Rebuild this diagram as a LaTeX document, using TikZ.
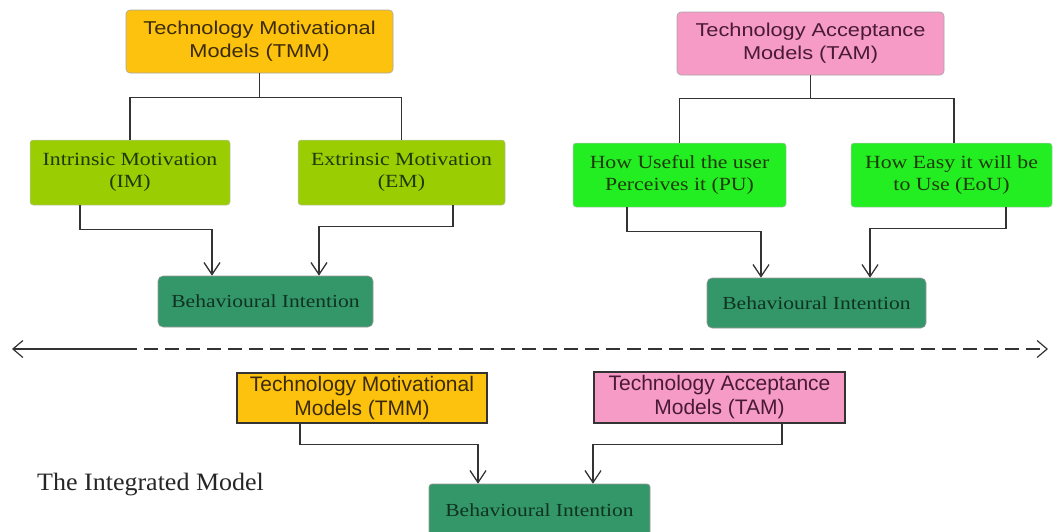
\documentclass[tikz,border=0pt]{standalone}
\usepackage{fontspec}
\setmainfont{Liberation Serif}
\newfontfamily\tsans[FakeStretch=1.17]{Liberation Sans}
\newfontfamily\tserif[FakeStretch=1.17]{Liberation Serif}
\newfontfamily\bsans{Liberation Sans}
\newfontfamily\bserif[FakeStretch=1.04]{Liberation Serif}
\usetikzlibrary{arrows.meta}
\definecolor{tmmcol}{HTML}{FDC20E}
\definecolor{tamcol}{HTML}{F59BC5}
\definecolor{imcol}{HTML}{9ACD02}
\definecolor{pucol}{HTML}{22EE22}
\definecolor{bicol}{HTML}{33976A}
\definecolor{linecol}{HTML}{333333}
\definecolor{tmmtxt}{HTML}{3B2B0A}
\definecolor{tamtxt}{HTML}{4A1A35}
\definecolor{imtxt}{HTML}{1E3A08}
\definecolor{bitxt}{HTML}{0F3320}
\tikzset{
  topbox/.style={rounded corners=4pt, draw=black!35, line width=0.6pt, inner sep=0pt, align=center,
    font=\tsans\fontsize{18.6}{22.7}\selectfont},
  greenbox/.style={rounded corners=3pt, draw=black!25, line width=0.5pt, inner sep=0pt, align=center,
    font=\tserif\fontsize{18.6}{22}\selectfont, text=imtxt},
  bibox/.style={rounded corners=5pt, fill=bicol, draw=black!40, line width=0.6pt, inner sep=0pt, align=center,
    font=\tserif\fontsize{18.4}{22}\selectfont, text=bitxt},
  botbox/.style={draw=linecol, line width=1.2pt, inner sep=0pt, align=center,
    font=\bsans\fontsize{21}{24}\selectfont},
  conn/.style={draw=linecol, line width=1.3pt},
  arr/.style={conn, -{Straight Barb[length=12pt,width=16pt,line width=1.3pt]}},
}
\begin{document}
\begin{tikzpicture}[x=1pt,y=-1pt]
\useasboundingbox (0,0) rectangle (1054,531);
\clip (0,0) rectangle (1054,531);
% top left tree
\node[topbox, fill=tmmcol, text=tmmtxt, minimum width=267pt, minimum height=63pt] (tmm) at (259.5,41.5)
  {Technology Motivational\\Models (TMM)};
\node[greenbox, fill=imcol, minimum width=200pt, minimum height=65pt] (im) at (130,172.5)
  {Intrinsic Motivation\\(IM)};
\node[greenbox, fill=imcol, minimum width=207pt, minimum height=65pt] (em) at (401.5,172.5)
  {Extrinsic Motivation\\(EM)};
\node[bibox, minimum width=215pt, minimum height=51pt] (bia) at (265.5,301.5) {Behavioural Intention};
% top right tree
\node[topbox, fill=tamcol, text=tamtxt, minimum width=267pt, minimum height=63pt] (tam) at (810.5,43.5)
  {Technology Acceptance\\Models (TAM)};
\node[greenbox, fill=pucol, minimum width=213pt, minimum height=64pt] (pu) at (679.5,175)
  {How Useful the user\\Perceives it (PU)};
\node[greenbox, fill=pucol, minimum width=201pt, minimum height=64pt] (eou) at (951.5,175)
  {How Easy it will be\\to Use (EoU)};
\node[bibox, minimum width=219pt, minimum height=50pt] (bib) at (816.5,303) {Behavioural Intention};
% connectors top
\draw[conn] (tmm.south) -- ++(0,24) -| (im.north);
\draw[conn] (tmm.south) -- ++(0,24) -| (em.north);
\draw[arr] ([xshift=-50pt]im.south) -- ++(0,24) -| ([xshift=-53.5pt]bia.north);
\draw[arr] ([xshift=51.5pt]em.south) -- ++(0,21) -| ([xshift=53.5pt]bia.north);
\draw[conn] (tam.south) -- ++(0,23) -| (pu.north);
\draw[conn] (tam.south) -- ++(0,23) -| ([xshift=2.5pt]eou.north);
\draw[arr] ([xshift=-52.5pt]pu.south) -- ++(0,24) -| ([xshift=-55.5pt]bib.north);
\draw[arr] ([xshift=54.5pt]eou.south) -- ++(0,21) -| ([xshift=53.5pt]bib.north);
% separator
\coordinate (lt) at (12,349);
\coordinate (ls) at (123,349);
\coordinate (rt) at (1048,349);
\draw[conn, line width=1.2pt, {Straight Barb[length=10pt,width=17pt,line width=1.2pt]}-] (lt) -- (ls);
\draw[conn, line width=1.2pt, dash pattern=on 14pt off 7pt, -{Straight Barb[length=10pt,width=17pt,line width=1.2pt]}] (ls) -- (rt);
% integrated model
\node[botbox, fill=tmmcol, text=tmmtxt, minimum width=250pt, minimum height=50pt] (tmmb) at (362,398)
  {Technology Motivational\\Models (TMM)};
\node[botbox, fill=tamcol, text=tamtxt, minimum width=251pt, minimum height=51pt] (tamb) at (719.5,397.5)
  {Technology Acceptance\\Models (TAM)};
\node[bibox, rounded corners=3pt, minimum width=221pt, minimum height=52pt] (bic) at (539.5,510) {Behavioural Intention};
\draw[arr] ([xshift=-62pt]tmmb.south) -- ++(0,21) -| ([xshift=-61.5pt]bic.north);
\draw[arr] ([xshift=62.5pt]tamb.south) -- ++(0,21) -| ([xshift=53.5pt]bic.north);
\node[anchor=base west, inner sep=0pt, font=\bserif\fontsize{25}{30}\selectfont, text=black!85] (lbl) at (37,490)
  {The Integrated Model};
\end{tikzpicture}
\end{document}
